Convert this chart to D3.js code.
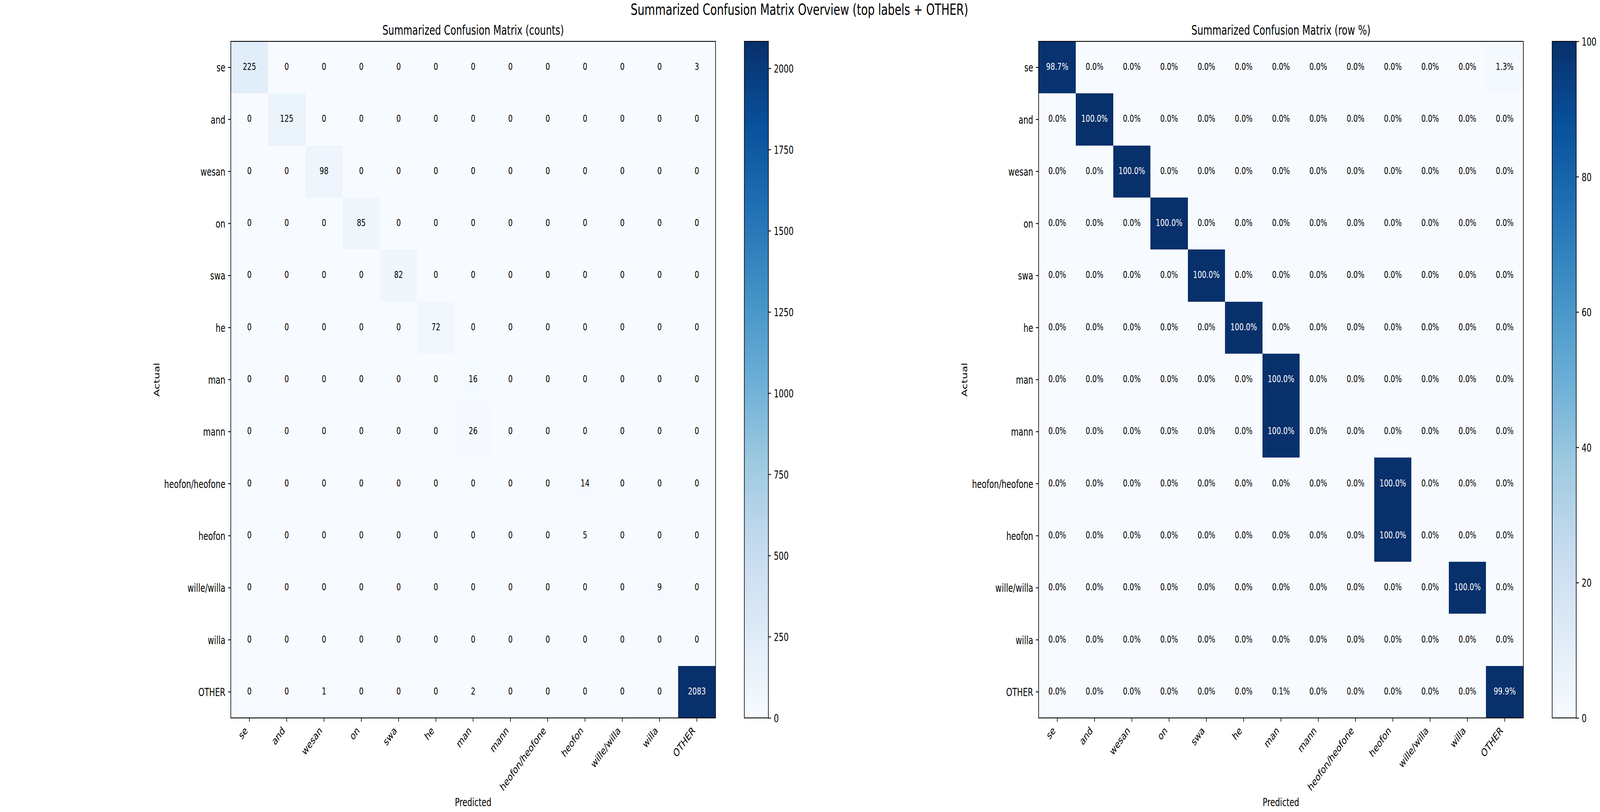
<!DOCTYPE html>
<html>
<head>
<meta charset="utf-8">
<script src="https://cdn.jsdelivr.net/npm/d3@7/dist/d3.min.js"></script>
<style>
  html, body { margin: 0; padding: 0; background: #ffffff; overflow: hidden; }
  #chart { display: block; width: 100vw; height: 100vh; }
  text { font-family: "DejaVu Sans", sans-serif; }
</style>
</head>
<body>
<svg id="chart" viewBox="0 0 5720 2080" preserveAspectRatio="none"></svg>
<script>
// ---------------- data ----------------
const labels = ["se", "and", "wesan", "on", "swa", "he", "man", "mann",
                "heofon/heofone", "heofon", "wille/willa", "willa", "OTHER"];

const countRows = [
  [225, 0, 0, 0, 0, 0, 0, 0, 0, 0, 0, 0, 3],
  [0, 125, 0, 0, 0, 0, 0, 0, 0, 0, 0, 0, 0],
  [0, 0, 98, 0, 0, 0, 0, 0, 0, 0, 0, 0, 0],
  [0, 0, 0, 85, 0, 0, 0, 0, 0, 0, 0, 0, 0],
  [0, 0, 0, 0, 82, 0, 0, 0, 0, 0, 0, 0, 0],
  [0, 0, 0, 0, 0, 72, 0, 0, 0, 0, 0, 0, 0],
  [0, 0, 0, 0, 0, 0, 16, 0, 0, 0, 0, 0, 0],
  [0, 0, 0, 0, 0, 0, 26, 0, 0, 0, 0, 0, 0],
  [0, 0, 0, 0, 0, 0, 0, 0, 0, 14, 0, 0, 0],
  [0, 0, 0, 0, 0, 0, 0, 0, 0, 5, 0, 0, 0],
  [0, 0, 0, 0, 0, 0, 0, 0, 0, 0, 0, 9, 0],
  [0, 0, 0, 0, 0, 0, 0, 0, 0, 0, 0, 0, 0],
  [0, 0, 1, 0, 0, 0, 2, 0, 0, 0, 0, 0, 2083]
];

const percentRows = [
  [98.7, 0, 0, 0, 0, 0, 0, 0, 0, 0, 0, 0, 1.3],
  [0, 100, 0, 0, 0, 0, 0, 0, 0, 0, 0, 0, 0],
  [0, 0, 100, 0, 0, 0, 0, 0, 0, 0, 0, 0, 0],
  [0, 0, 0, 100, 0, 0, 0, 0, 0, 0, 0, 0, 0],
  [0, 0, 0, 0, 100, 0, 0, 0, 0, 0, 0, 0, 0],
  [0, 0, 0, 0, 0, 100, 0, 0, 0, 0, 0, 0, 0],
  [0, 0, 0, 0, 0, 0, 100, 0, 0, 0, 0, 0, 0],
  [0, 0, 0, 0, 0, 0, 100, 0, 0, 0, 0, 0, 0],
  [0, 0, 0, 0, 0, 0, 0, 0, 0, 100, 0, 0, 0],
  [0, 0, 0, 0, 0, 0, 0, 0, 0, 100, 0, 0, 0],
  [0, 0, 0, 0, 0, 0, 0, 0, 0, 0, 0, 100, 0],
  [0, 0, 0, 0, 0, 0, 0, 0, 0, 0, 0, 0, 0],
  [0, 0, 0, 0, 0, 0, 0.1, 0, 0, 0, 0, 0, 99.9]
];

const countTicks = [0, 250, 500, 750, 1000, 1250, 1500, 1750, 2000];
const percentTicks = [0, 20, 40, 60, 80, 100];

const mainTitle = "Summarized Confusion Matrix Overview (top labels + OTHER)";
const panelTitles = ["Summarized Confusion Matrix (counts)", "Summarized Confusion Matrix (row %)"];
const xLabel = "Predicted";
const yLabel = "Actual";

// matplotlib "Blues" anchor colours
const bluesStops = ["#f7fbff", "#deebf7", "#c6dbef", "#9ecae1", "#6baed6",
                    "#4292c6", "#2171b5", "#08519c", "#08306b"];

// ---------------- layout ----------------
const svg = d3.select("#chart");
const TOP = 106, SIZE = 1733;
const PANEL_LEFT = [825, 3713];
const CB_GAP = 103, CB_W = 86;
const TICK = 9.7, PAD = 9.7, LW = 2.2;
const TICK_FS = 27.8, ANN_FS = 25, TITLE_FS = 33.3, SUP_FS = 38.9;

svg.append("rect").attr("width", 5720).attr("height", 2080).attr("fill", "#fff");

svg.append("text")
  .attr("x", 2858).attr("y", 38.3)
  .attr("text-anchor", "middle")
  .attr("font-size", SUP_FS)
  .attr("fill", "#000")
  .text(mainTitle);

function makeColor(vmax) {
  return d3.scaleLinear()
    .domain(bluesStops.map((_, i) => i / (bluesStops.length - 1) * vmax))
    .range(bluesStops)
    .interpolate(d3.interpolateRgb)
    .clamp(true);
}

function panel(idx, rows, vmax, ticks, fmt) {
  const left = PANEL_LEFT[idx];
  const g = svg.append("g").attr("transform", `translate(${left},${TOP})`);
  const x = d3.scaleBand().domain(labels).range([0, SIZE]);
  const y = d3.scaleBand().domain(labels).range([0, SIZE]);
  const color = makeColor(vmax);

  const cells = [];
  rows.forEach((r, i) => r.forEach((v, j) => cells.push({ r: labels[i], c: labels[j], v })));

  g.append("g").selectAll("rect").data(cells).join("rect")
    .attr("x", d => x(d.c))
    .attr("y", d => y(d.r))
    .attr("width", x.bandwidth() + 0.5)
    .attr("height", y.bandwidth() + 0.5)
    .attr("fill", d => color(d.v))
    .attr("shape-rendering", "crispEdges");

  g.append("g").selectAll("text").data(cells).join("text")
    .attr("x", d => x(d.c) + x.bandwidth() / 2)
    .attr("y", d => y(d.r) + y.bandwidth() / 2 + 0.262 * ANN_FS)
    .attr("text-anchor", "middle")
    .attr("font-size", ANN_FS)
    .attr("fill", d => d.v > vmax / 2 ? "#ffffff" : "#000000")
    .text(d => fmt(d.v));

  // frame
  g.append("rect").attr("x", 0).attr("y", 0).attr("width", SIZE).attr("height", SIZE)
    .attr("fill", "none").attr("stroke", "#000").attr("stroke-width", LW);

  // x axis
  const xa = g.append("g").attr("transform", `translate(0,${SIZE})`)
    .call(d3.axisBottom(x).tickSize(TICK).tickPadding(PAD));
  xa.select(".domain").remove();
  xa.selectAll(".tick line").attr("stroke", "#000").attr("stroke-width", LW);
  xa.selectAll(".tick text")
    .attr("y", null).attr("dy", null)
    .attr("font-size", TICK_FS).attr("fill", "#000")
    .attr("font-family", "DejaVu Sans, sans-serif")
    .attr("text-anchor", "end")
    .attr("transform", `translate(-4.6,${TICK + PAD + 14.9}) rotate(-45)`);

  // y axis
  const ya = g.append("g").call(d3.axisLeft(y).tickSize(TICK).tickPadding(PAD));
  ya.select(".domain").remove();
  ya.selectAll(".tick line").attr("stroke", "#000").attr("stroke-width", LW);
  ya.selectAll(".tick text")
    .attr("dy", "0.38em")
    .attr("font-size", TICK_FS).attr("fill", "#000")
    .attr("font-family", "DejaVu Sans, sans-serif");

  // titles and axis labels
  g.append("text").attr("x", SIZE / 2).attr("y", -16.7)
    .attr("text-anchor", "middle").attr("font-size", TITLE_FS).attr("fill", "#000")
    .text(panelTitles[idx]);
  g.append("text").attr("x", SIZE / 2).attr("y", SIZE + 226)
    .attr("text-anchor", "middle").attr("font-size", TICK_FS).attr("fill", "#000")
    .text(xLabel);
  g.append("text")
    .attr("transform", `translate(-255,${SIZE / 2}) rotate(-90)`)
    .attr("text-anchor", "middle").attr("font-size", TICK_FS).attr("fill", "#000")
    .text(yLabel);

  // colorbar
  const cbx = SIZE + CB_GAP;
  const gradId = "grad" + idx;
  const grad = svg.append("defs").append("linearGradient")
    .attr("id", gradId).attr("x1", 0).attr("y1", 1).attr("x2", 0).attr("y2", 0);
  bluesStops.forEach((c, i) => grad.append("stop")
    .attr("offset", i / (bluesStops.length - 1)).attr("stop-color", c));
  const cb = g.append("g").attr("transform", `translate(${cbx},0)`);
  cb.append("rect").attr("width", CB_W).attr("height", SIZE).attr("fill", `url(#${gradId})`);
  cb.append("rect").attr("width", CB_W).attr("height", SIZE)
    .attr("fill", "none").attr("stroke", "#000").attr("stroke-width", LW);
  const cbScale = d3.scaleLinear().domain([0, vmax]).range([SIZE, 0]);
  const ca = cb.append("g").attr("transform", `translate(${CB_W},0)`)
    .call(d3.axisRight(cbScale).tickValues(ticks).tickSize(TICK).tickPadding(PAD).tickFormat(d3.format("d")));
  ca.select(".domain").remove();
  ca.selectAll(".tick line").attr("stroke", "#000").attr("stroke-width", LW);
  ca.selectAll(".tick text")
    .attr("dy", "0.38em")
    .attr("font-size", TICK_FS).attr("fill", "#000")
    .attr("font-family", "DejaVu Sans, sans-serif");
}

const countMax = d3.max(countRows.flat());
const pctMax = d3.max(percentRows.flat());
panel(0, countRows, countMax, countTicks, v => String(v));
panel(1, percentRows, pctMax, percentTicks, v => d3.format(".1f")(v) + "%");
</script>
</body>
</html>
